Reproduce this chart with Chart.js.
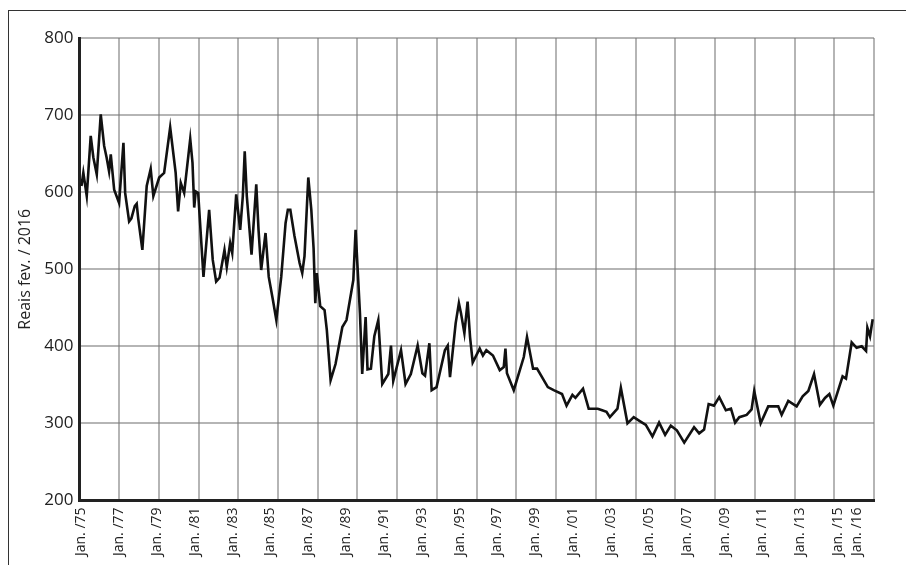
<!DOCTYPE html>
<html>
<head>
<meta charset="utf-8">
<script src="https://cdn.jsdelivr.net/npm/chart.js@4.4.1/dist/chart.umd.min.js"></script>
<style>
  body { margin: 0; background: #fff; }
  #wrap { position: relative; width: 906px; height: 565px; }
  #frame { position: absolute; left: 8px; top: 10px; right: 0; bottom: 0;
           border-top: 1px solid #333; border-left: 1px solid #333; }
  canvas { position: absolute; left: 0; top: 0; }
</style>
</head>
<body>
<div id="wrap">
  <div id="frame"></div>
  <canvas id="chart" width="906" height="565"></canvas>
</div>
<script>
// decimal year of each vertex
const years = [
  1975.01, 1975.11, 1975.29, 1975.50, 1975.64, 1975.82, 1976.03, 1976.21, 1976.34, 1976.47,
  1976.56, 1976.74, 1977.00, 1977.23, 1977.32, 1977.53, 1977.65, 1977.83, 1977.93, 1978.01,
  1978.23, 1978.46, 1978.67, 1978.81, 1979.12, 1979.38, 1979.70, 1979.99, 1980.12, 1980.26,
  1980.44, 1980.76, 1980.88, 1980.97, 1981.05, 1981.18, 1981.46, 1981.76, 1981.95, 1982.13,
  1982.31, 1982.57, 1982.69, 1982.87, 1982.98, 1983.19, 1983.40, 1983.54, 1983.64, 1983.75,
  1984.00, 1984.25, 1984.37, 1984.51, 1984.74, 1984.91, 1985.13, 1985.31, 1985.57, 1985.80,
  1985.92, 1986.05, 1986.27, 1986.54, 1986.68, 1986.80, 1987.00, 1987.16, 1987.28, 1987.37,
  1987.45, 1987.63, 1987.86, 1987.98, 1988.18, 1988.44, 1988.56, 1988.80, 1989.02, 1989.38,
  1989.50, 1989.73, 1989.85, 1990.03, 1990.13, 1990.31, 1990.49, 1990.70, 1990.91, 1991.23,
  1991.37, 1991.49, 1991.90, 1992.14, 1992.42, 1992.78, 1993.03, 1993.17, 1993.40, 1993.52,
  1993.78, 1994.22, 1994.37, 1994.49, 1994.79, 1994.96, 1995.07, 1995.25, 1995.42, 1995.55,
  1995.69, 1996.06, 1996.23, 1996.41, 1996.76, 1997.12, 1997.33, 1997.42, 1997.50, 1997.86,
  1998.39, 1998.56, 1998.88, 1999.09, 1999.66, 1999.97, 2000.41, 2000.65, 2000.96, 2001.12,
  2001.52, 2001.82, 2002.30, 2002.53, 2002.76, 2002.94, 2003.34, 2003.52, 2003.87, 2004.20,
  2004.52, 2004.84, 2005.19, 2005.54, 2005.86, 2006.16, 2006.48, 2006.87, 2007.39, 2007.66,
  2007.92, 2008.16, 2008.44, 2008.72, 2009.07, 2009.34, 2009.56, 2009.78, 2010.17, 2010.43,
  2010.57, 2010.91, 2011.31, 2011.84, 2012.02, 2012.37, 2012.81, 2013.13, 2013.43, 2013.73,
  2014.04, 2014.31, 2014.54, 2014.75, 2015.24, 2015.42, 2015.72, 2015.98, 2016.25, 2016.48,
  2016.55, 2016.69, 2016.83
];

// value in reais (fev./2016) at each vertex
const prices = [
  608, 625, 595, 673, 645, 623, 701, 660, 645, 627,
  649, 603, 586, 664, 599, 562, 566, 582, 585, 566,
  525, 608, 630, 595, 619, 625, 684, 625, 575, 612,
  599, 669, 638, 580, 601, 599, 490, 577, 512, 484,
  489, 525, 503, 534, 521, 597, 551, 595, 653, 595,
  519, 610, 551, 499, 547, 490, 460, 434, 490, 560,
  577, 577, 543, 508, 495, 517, 619, 577, 527, 456,
  495, 452, 447, 421, 356, 377, 393, 425, 434, 486,
  551, 443, 364, 438, 370, 371, 413, 434, 351, 364,
  401, 355, 395, 351, 364, 401, 365, 362, 404, 343,
  347, 395, 401, 360, 430, 456, 443, 417, 458, 412,
  379, 397, 388, 395, 388, 369, 373, 397, 365, 343,
  386, 412, 371, 371, 347, 343, 338, 323, 337, 333,
  345, 319, 319, 317, 315, 308, 319, 346, 300, 308,
  303, 298, 283, 301, 285, 297, 291, 275, 295, 287,
  292, 325, 323, 334, 317, 319, 301, 308, 311, 318,
  342, 300, 322, 322, 311, 329, 322, 335, 342, 364,
  324, 333, 338, 323, 361, 358, 405, 398, 400, 394,
  424, 413, 435
];

const tickYears = [1975, 1977, 1979, 1981, 1983, 1985, 1987, 1989, 1991, 1993, 1995,
  1997, 1999, 2001, 2003, 2005, 2007, 2009, 2011, 2013, 2015, 2016];
const tickLabels = ['Jan. /75', 'Jan. /77', 'Jan. /79', 'Jan. /81', 'Jan. /83', 'Jan. /85',
  'Jan. /87', 'Jan. /89', 'Jan. /91', 'Jan. /93', 'Jan. /95', 'Jan. /97', 'Jan. /99',
  'Jan. /01', 'Jan. /03', 'Jan. /05', 'Jan. /07', 'Jan. /09', 'Jan. /11', 'Jan. /13',
  'Jan. /15', 'Jan. /16'];

const X_MIN = 1974.9;
const X_MAX = 2016.9;
const GRID_COLOR = 'rgba(120,120,120,0.55)';

const canvas = document.getElementById('chart');
const context = canvas.getContext('2d');

const chart = new Chart(context, {
  type: 'line',
  data: {
    datasets: [{
      data: years.map((x, i) => ({ x: x, y: prices[i] })),
      borderColor: '#111',
      borderWidth: 2.6,
      pointRadius: 0,
      tension: 0,
      fill: false
    }]
  },
  options: {
    responsive: false,
    animation: false,
    devicePixelRatio: 1,
    layout: { padding: { left: 12, right: 32, top: 38, bottom: 2 } },
    plugins: {
      legend: { display: false },
      tooltip: { enabled: false }
    },
    scales: {
      // vertical grid: 20 equal columns
      xg: {
        type: 'linear',
        position: 'bottom',
        min: X_MIN,
        max: X_MAX,
        afterBuildTicks: axis => {
          const t = [];
          for (let k = 0; k <= 20; k++) t.push({ value: X_MIN + k * (X_MAX - X_MIN) / 20 });
          axis.ticks = t;
        },
        ticks: { display: false },
        grid: { color: GRID_COLOR, lineWidth: 2, drawTicks: false },
        border: { color: '#222', width: 3 }
      },
      x: {
        type: 'linear',
        position: 'bottom',
        min: X_MIN,
        max: X_MAX,
        afterBuildTicks: axis => {
          axis.ticks = tickYears.map(v => ({ value: v }));
        },
        ticks: {
          autoSkip: false,
          minRotation: 90,
          maxRotation: 90,
          padding: 7,
          color: '#222',
          font: { family: "'Open Sans', sans-serif", size: 14 },
          callback: (value, index) => tickLabels[index]
        },
        grid: { display: false, drawTicks: false },
        border: { display: false }
      },
      y: {
        min: 200,
        max: 800,
        ticks: {
          stepSize: 100,
          padding: 6,
          color: '#222',
          font: { family: "'Open Sans', sans-serif", size: 17 }
        },
        grid: { color: GRID_COLOR, lineWidth: 2, drawTicks: false },
        border: { color: '#222', width: 3 },
        title: {
          display: true,
          text: 'Reais fev. / 2016',
          color: '#222',
          padding: { top: 4, bottom: 3 },
          font: { family: "'Open Sans', sans-serif", size: 16 }
        }
      }
    }
  }
});
</script>
</body>
</html>
